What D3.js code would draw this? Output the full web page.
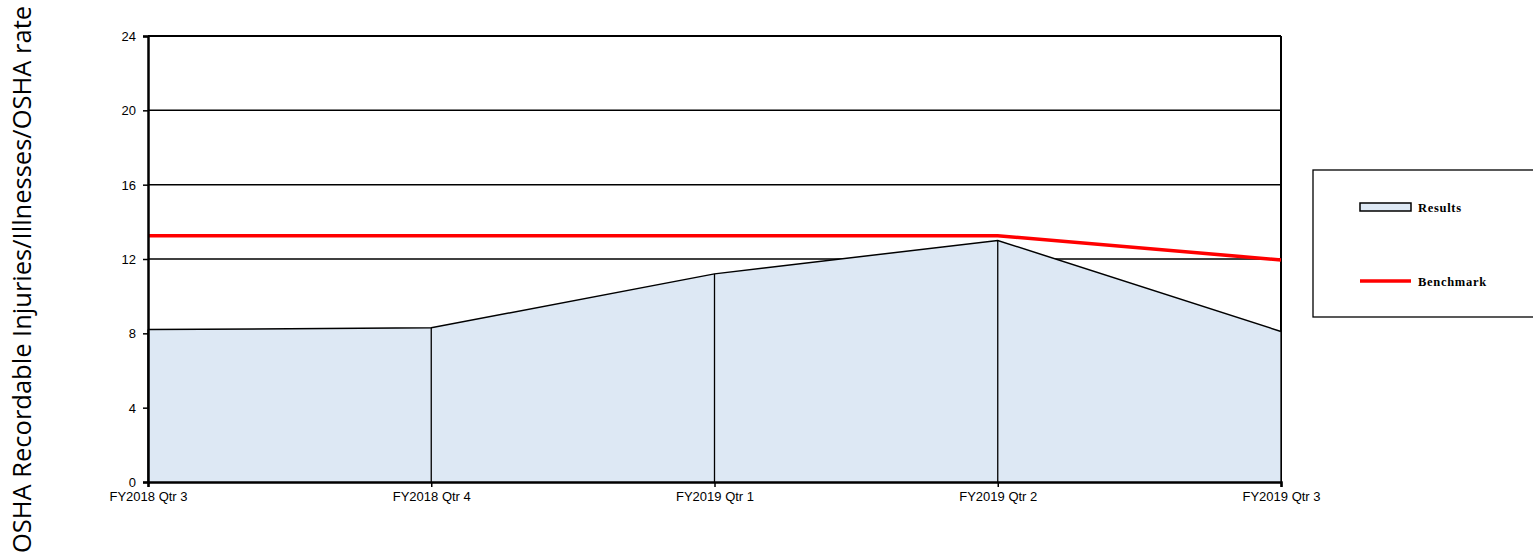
<!DOCTYPE html>
<html>
<head>
<meta charset="utf-8">
<script src="https://cdn.jsdelivr.net/npm/d3@7"></script>
<style>
  body { margin: 0; background: #fff; }
  svg { display: block; }
</style>
</head>
<body>
<div id="chart"></div>
<script>
// quarters on the x axis
var quarters = ["FY2018 Qtr 3", "FY2018 Qtr 4", "FY2019 Qtr 1", "FY2019 Qtr 2", "FY2019 Qtr 3"];
var results = [8.2, 8.3, 11.2, 13.0, 8.1];
var benchmark = [13.25, 13.25, 13.25, 13.25, 11.95];
var yTicks = [0, 4, 8, 12, 16, 20, 24];
var seriesNames = ["Results", "Benchmark"];

var width = 1533,
    height = 559,
    plot = { left: 148, right: 1281, top: 36, bottom: 482 };

var svg = d3.select("#chart").append("svg")
    .attr("width", width)
    .attr("height", height);

var xScale = d3.scalePoint()
    .domain(quarters)
    .range([plot.left, plot.right]);

var yScale = d3.scaleLinear()
    .domain([0, 24])
    .range([plot.bottom, plot.top]);

// grid lines
svg.append("g")
  .selectAll("line")
  .data(yTicks.filter(function(d) { return d > 0; }))
  .enter().append("line")
    .attr("x1", plot.left)
    .attr("x2", plot.right)
    .attr("y1", function(d) { return yScale(d); })
    .attr("y2", function(d) { return yScale(d); })
    .attr("stroke", "#000")
    .attr("stroke-width", function(d) { return d === 24 ? 2 : 1.5; });

// right border
svg.append("line")
    .attr("x1", plot.right).attr("x2", plot.right)
    .attr("y1", plot.top).attr("y2", plot.bottom)
    .attr("stroke", "#000")
    .attr("stroke-width", 2);

// results area
var area = d3.area()
    .x(function(d, i) { return xScale(quarters[i]); })
    .y0(plot.bottom)
    .y1(function(d) { return yScale(d); });

svg.append("path")
    .datum(results)
    .attr("d", area)
    .attr("fill", "#dde8f4")
    .attr("stroke", "none");

svg.append("g")
  .selectAll("line")
  .data(results)
  .enter().append("line")
    .attr("x1", function(d, i) { return xScale(quarters[i]); })
    .attr("x2", function(d, i) { return xScale(quarters[i]); })
    .attr("y1", plot.bottom)
    .attr("y2", function(d) { return yScale(d); })
    .attr("stroke", "#000")
    .attr("stroke-width", 1.3);

var line = d3.line()
    .x(function(d, i) { return xScale(quarters[i]); })
    .y(function(d) { return yScale(d); });

svg.append("path")
    .datum(results)
    .attr("d", line)
    .attr("fill", "none")
    .attr("stroke", "#000")
    .attr("stroke-width", 1.5);

svg.append("path")
    .datum(benchmark)
    .attr("d", line)
    .attr("fill", "none")
    .attr("stroke", "#ff0000")
    .attr("stroke-width", 3.5);

// axes
var yAxis = svg.append("g")
    .attr("transform", "translate(" + plot.left + ",0)")
    .call(d3.axisLeft(yScale).tickValues(yTicks).tickSize(5).tickPadding(7));

var xAxis = svg.append("g")
    .attr("transform", "translate(0," + plot.bottom + ")")
    .call(d3.axisBottom(xScale).tickSize(5).tickPadding(5));

[yAxis, xAxis].forEach(function(ax) {
  ax.select(".domain").attr("stroke", "#000").attr("stroke-width", 2.5);
  ax.selectAll(".tick line").attr("stroke", "#000").attr("stroke-width", 1.5);
  ax.selectAll("text")
    .attr("fill", "#000")
    .style("font-family", "'Liberation Sans', Arial, sans-serif")
    .style("font-size", "13px");
});
yAxis.selectAll("text").attr("dy", "0.35em");

// y axis title
svg.append("text")
    .attr("transform", "translate(31," + (height / 2) + ") rotate(-90)")
    .attr("text-anchor", "middle")
    .style("font-family", "'Open Sans', sans-serif")
    .style("font-size", "25.5px")
    .attr("fill", "#000")
    .text("OSHA Recordable Injuries/Illnesses/OSHA rate");

// legend
var legend = svg.append("g");
legend.append("rect")
    .attr("x", 1313)
    .attr("y", 170)
    .attr("width", 240)
    .attr("height", 147)
    .attr("fill", "#fff")
    .attr("stroke", "#000")
    .attr("stroke-width", 1.3);

legend.append("rect")
    .attr("x", 1360)
    .attr("y", 203)
    .attr("width", 51)
    .attr("height", 8)
    .attr("fill", "#dde8f4")
    .attr("stroke", "#000")
    .attr("stroke-width", 1.5);

legend.append("line")
    .attr("x1", 1360).attr("x2", 1411)
    .attr("y1", 281).attr("y2", 281)
    .attr("stroke", "#ff0000")
    .attr("stroke-width", 3.5);

legend.selectAll("text.lbl")
  .data(seriesNames)
  .enter().append("text")
    .attr("class", "lbl")
    .attr("x", 1418)
    .attr("y", function(d, i) { return i === 0 ? 212 : 286; })
    .style("font-family", "'Liberation Serif', 'Times New Roman', serif")
    .style("font-weight", "bold")
    .style("font-size", "12.5px")
    .style("letter-spacing", "0.7px")
    .attr("fill", "#000")
    .text(function(d) { return d; });
</script>
</body>
</html>
